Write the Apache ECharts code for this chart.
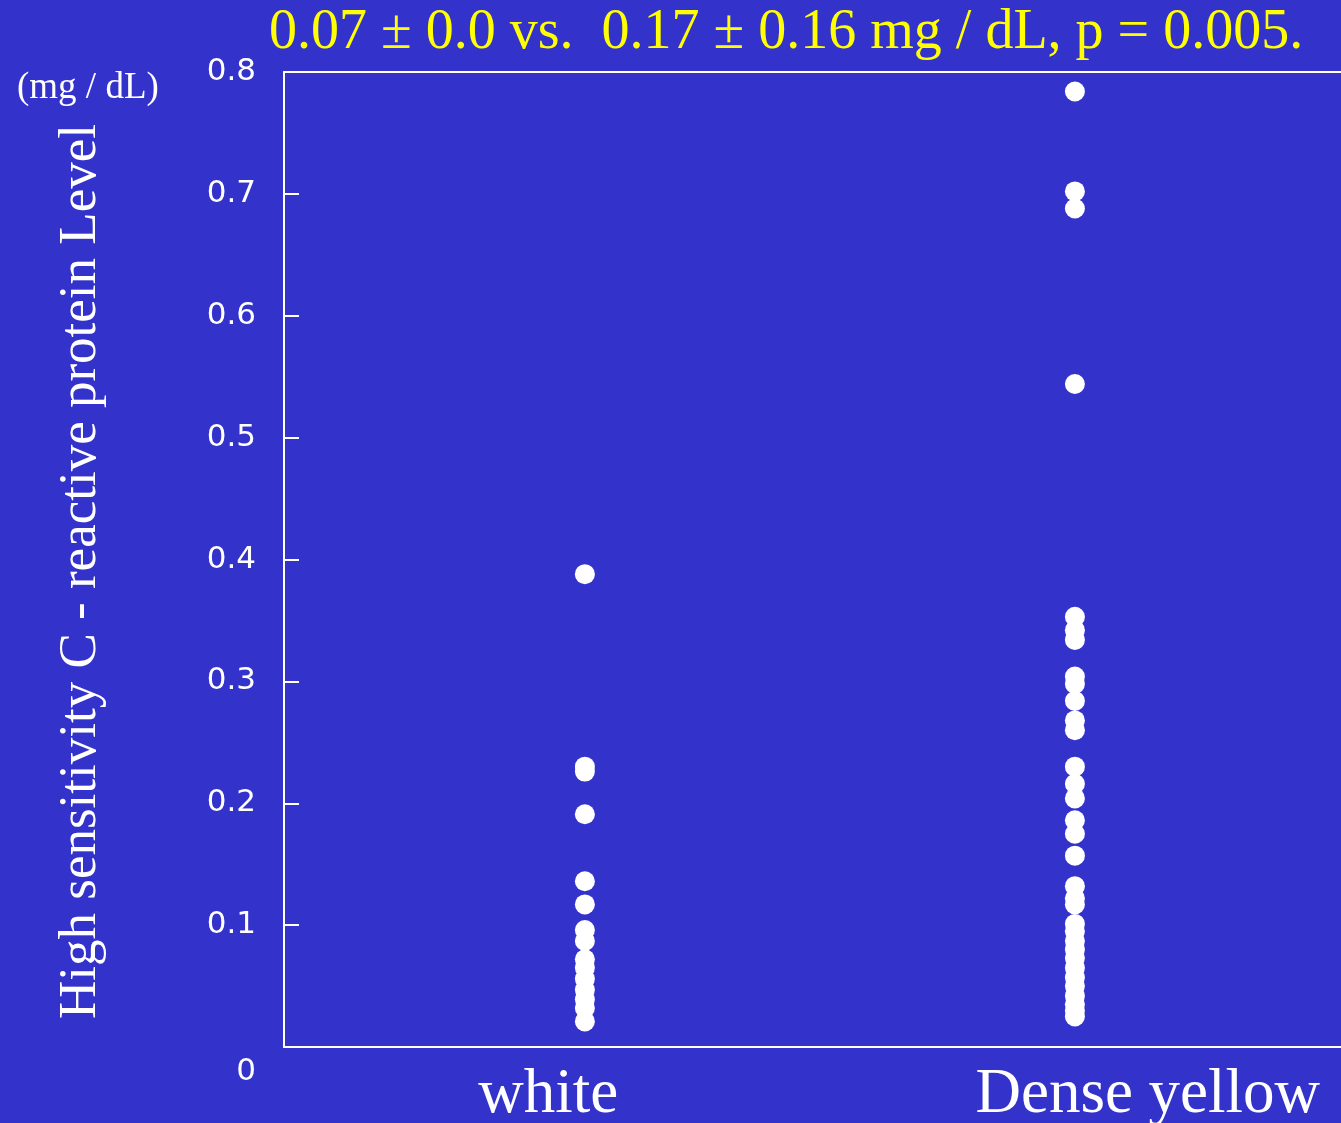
<!DOCTYPE html>
<html>
<head>
<meta charset="utf-8">
<title>hs-CRP by plaque colour</title>
<script src="https://cdn.jsdelivr.net/npm/echarts@6/dist/echarts.min.js"></script>
<style>
  html, body { margin: 0; padding: 0; background: #3333cc; }
  #chart { width: 1341px; height: 1123px; }
</style>
</head>
<body>
<div id="chart"></div>
<script>
// Groups and values (mg / dL)
const categories = ['white', 'Dense yellow'];
const whiteValues = [0.388, 0.230, 0.226, 0.191, 0.136, 0.117, 0.096, 0.087, 0.072, 0.065, 0.056, 0.047, 0.039, 0.032, 0.021];
const yellowValues = [0.784, 0.702, 0.688, 0.544, 0.353, 0.342, 0.334, 0.304, 0.298, 0.284, 0.268, 0.260,
    0.230, 0.216, 0.204, 0.186, 0.175, 0.157, 0.132, 0.122, 0.117, 0.101, 0.095, 0.087, 0.080,
    0.073, 0.065, 0.057, 0.050, 0.042, 0.035, 0.030, 0.025];
const yTicks = [0, 0.1, 0.2, 0.3, 0.4, 0.5, 0.6, 0.7, 0.8];

const titleText = '0.07 \u00b1 0.0 vs.  0.17 \u00b1 0.16 mg / dL, p = 0.005.';

document.addEventListener('DOMContentLoaded', function() {
    const chart = echarts.init(document.getElementById('chart'));

    const serif = '"Liberation Serif", "Times New Roman", serif';
    const sans = '"DejaVu Sans", Verdana, sans-serif';

    const option = {
        backgroundColor: '#3333cc',
        animation: false,
        title: [
            {
                text: titleText,
                left: 264,
                top: 0,
                textStyle: { color: '#ffff00', fontFamily: serif, fontSize: 56, fontWeight: 'normal' }
            },
            {
                text: '(mg / dL)',
                left: 12,
                top: 65,
                textStyle: { color: '#ffffff', fontFamily: serif, fontSize: 37, fontWeight: 'normal' }
            }
        ],
        grid: { left: 284, right: 0, top: 72, bottom: 76, outerBoundsMode: 'none' },
        xAxis: [
            {
                type: 'category',
                position: 'bottom',
                boundaryGap: true,
                data: categories.map((c, i) => i === 1
                    ? { value: c, textStyle: { padding: [0, 0, 0, 142] } }
                    : { value: c }),
                axisLine: { show: true, onZero: false, lineStyle: { color: '#ffffff', width: 2 } },
                axisTick: { show: false },
                splitLine: { show: false },
                axisLabel: { color: '#ffffff', fontFamily: serif, fontSize: 63, margin: 17 }
            },
            {
                // point positions for the two groups, line doubles as the top frame
                type: 'value',
                position: 'top',
                min: -0.614,
                max: 1.543,
                axisLine: { show: true, onZero: false, lineStyle: { color: '#ffffff', width: 2 } },
                axisTick: { show: false },
                axisLabel: { show: false },
                splitLine: { show: false }
            }
        ],
        yAxis: {
            type: 'value',
            min: 0,
            max: 0.8,
            interval: 0.1,
            name: 'High sensitivity C - reactive protein Level',
            nameLocation: 'middle',
            nameGap: 176,
            nameRotate: 90,
            nameTextStyle: { color: '#ffffff', fontFamily: serif, fontSize: 53, padding: [0, 24, 0, 0] },
            axisLine: { show: true, onZero: false, lineStyle: { color: '#ffffff', width: 2 } },
            axisTick: { show: true, inside: true, length: 15, lineStyle: { color: '#ffffff', width: 2 } },
            splitLine: { show: false },
            axisLabel: {
                color: '#ffffff',
                fontFamily: sans,
                fontSize: 31,
                margin: 28,
                formatter: function(v) {
                    return v === 0 ? '{z|0}' : v.toFixed(1);
                },
                rich: {
                    z: { color: '#ffffff', fontFamily: sans, fontSize: 31, padding: [50, 0, 0, 0] }
                }
            }
        },
        series: [
            {
                name: categories[0],
                type: 'scatter',
                xAxisIndex: 1,
                symbol: 'circle',
                symbolSize: 20,
                itemStyle: { color: '#ffffff', opacity: 1 },
                emphasis: { disabled: true },
                data: whiteValues.map(v => [0, v])
            },
            {
                name: categories[1],
                type: 'scatter',
                xAxisIndex: 1,
                symbol: 'circle',
                symbolSize: 20,
                itemStyle: { color: '#ffffff', opacity: 1 },
                emphasis: { disabled: true },
                data: yellowValues.map(v => [1, v])
            }
        ]
    };

    chart.setOption(option);

    window.addEventListener('resize', function() {
        chart.resize();
    });
});
</script>
</body>
</html>
